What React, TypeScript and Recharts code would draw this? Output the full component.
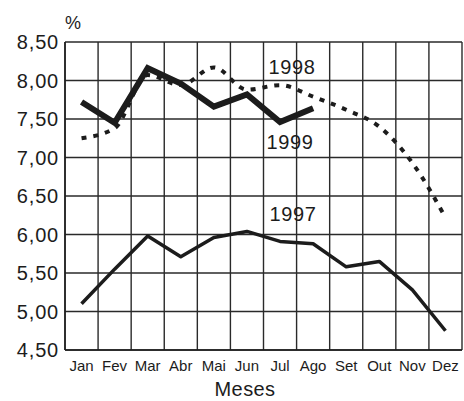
import React from "react";
import { LineChart, Line, XAxis, YAxis, CartesianGrid, LabelList } from "recharts";

const months = ["Jan", "Fev", "Mar", "Abr", "Mai", "Jun", "Jul", "Ago", "Set", "Out", "Nov", "Dez"];
const values1997 = [5.1, 5.55, 5.98, 5.71, 5.96, 6.04, 5.91, 5.88, 5.58, 5.65, 5.28, 4.75];
const values1998 = [7.25, 7.38, 8.07, 7.94, 8.17, 7.88, 7.94, 7.79, 7.62, 7.4, 6.93, 6.22];
const values1999 = [7.72, 7.45, 8.16, 7.96, 7.66, 7.82, 7.46, 7.64, null, null, null, null];
const yTicks = [4.5, 5.0, 5.5, 6.0, 6.5, 7.0, 7.5, 8.0, 8.5];
const seriesLabelMonth = "Jul";

const data = months.map((m, i) => ({
  x: i + 0.5,
  month: m,
  y1997: values1997[i],
  y1998: values1998[i],
  y1999: values1999[i],
}));
const centerTicks = data.map((d) => d.x);
const boundaryTicks = [0, ...data.map((d) => d.x + 0.5)];
const labelIndex = months.indexOf(seriesLabelMonth);

const FONT = "'Liberation Sans', Arial, Helvetica, sans-serif";
const INK = "#1c1c1c";

const makeSeriesLabel = (text: string, dx: number, dy: number) => (props: any) => {
  if (props.index !== labelIndex) return null;
  return (
    <text
      x={props.x + dx}
      y={props.y + dy}
      textAnchor="middle"
      fontFamily={FONT}
      fontSize={20}
      fill={INK}
      letterSpacing={0.6}
    >
      {text}
    </text>
  );
};

export default function App() {
  return (
    <div style={{ position: "absolute", left: 0, top: 0, background: "#fff" }}>
      <LineChart
        width={464}
        height={401}
        data={data}
        margin={{ top: 42, right: 2, left: 0, bottom: 0 }}
      >
        <XAxis
          xAxisId="grid"
          dataKey="x"
          type="number"
          domain={[0, 12]}
          ticks={boundaryTicks}
          allowDataOverflow
          hide
        />
        <CartesianGrid
          xAxisId="grid"
          stroke="#2a2a2a"
          strokeWidth={1.4}
          vertical
          horizontal
        />
        <XAxis
          dataKey="x"
          type="number"
          domain={[0, 12]}
          ticks={centerTicks}
          interval={0}
          allowDataOverflow
          height={51}
          tickFormatter={(v: number) => months[Math.floor(v)]}
          tickLine={false}
          tickMargin={4}
          axisLine={{ stroke: INK, strokeWidth: 1.5 }}
          tick={{ fontFamily: FONT, fontSize: 15, fill: INK }}
          label={{
            content: (p: any) => {
              const vb = p.viewBox;
              return (
                <text
                  x={vb.x + vb.width / 2 - 18.5}
                  y={vb.y + 46}
                  textAnchor="middle"
                  fontFamily={FONT}
                  fontSize={20}
                  fill={INK}
                  letterSpacing={0.4}
                >
                  Meses
                </text>
              );
            },
          }}
        />
        <YAxis
          type="number"
          domain={[4.5, 8.5]}
          ticks={yTicks}
          interval={0}
          width={65}
          tickLine={false}
          tickMargin={0}
          axisLine={{ stroke: INK, strokeWidth: 1.5 }}
          tickFormatter={(v: number) => v.toFixed(2).replace(".", ",")}
          tick={{ fontFamily: FONT, fontSize: 20, fill: INK, letterSpacing: 0.8 }}
          label={{
            content: (p: any) => {
              const vb = p.viewBox;
              return (
                <text
                  x={vb.x + vb.width + 8}
                  y={vb.y - 13}
                  textAnchor="middle"
                  fontFamily={FONT}
                  fontSize={18}
                  fill={INK}
                >
                  %
                </text>
              );
            },
          }}
        />
        <Line
          dataKey="y1997"
          type="linear"
          stroke={INK}
          strokeWidth={3.5}
          strokeLinejoin="round"
          dot={false}
          activeDot={false}
          isAnimationActive={false}
        >
          <LabelList dataKey="y1997" content={makeSeriesLabel("1997", 13, -20)} />
        </Line>
        <Line
          dataKey="y1998"
          type="monotone"
          stroke={INK}
          strokeWidth={4}
          strokeDasharray="5 7"
          dot={false}
          activeDot={false}
          isAnimationActive={false}
        >
          <LabelList dataKey="y1998" content={makeSeriesLabel("1998", 12, -11)} />
        </Line>
        <Line
          dataKey="y1999"
          type="linear"
          stroke={INK}
          strokeWidth={6}
          strokeLinejoin="miter"
          dot={false}
          activeDot={false}
          isAnimationActive={false}
        >
          <LabelList dataKey="y1999" content={makeSeriesLabel("1999", 10, 27)} />
        </Line>
      </LineChart>
    </div>
  );
}
